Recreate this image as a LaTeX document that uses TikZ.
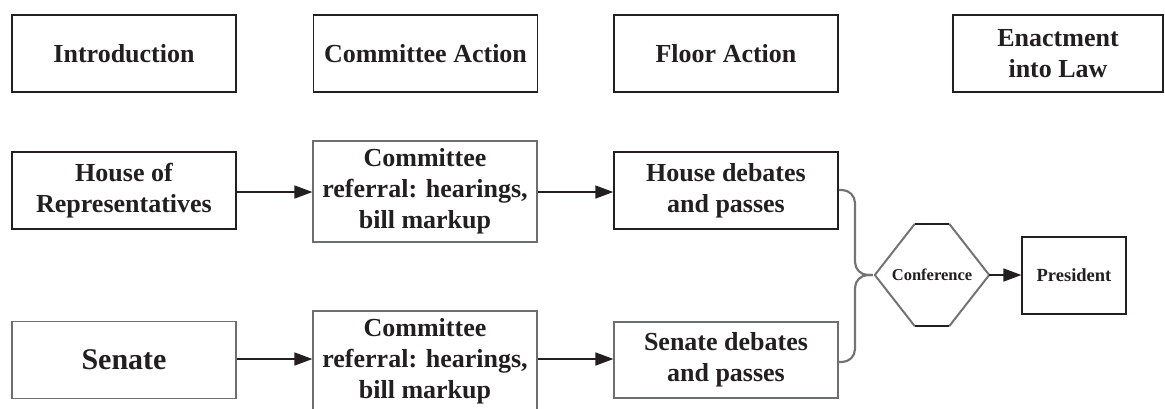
\documentclass[tikz,border=0pt]{standalone}
\usepackage{fontspec}
\setmainfont{Liberation Serif}
\usetikzlibrary{arrows.meta,calc}
\definecolor{ink}{HTML}{231F20}
\definecolor{midgray}{HTML}{6D6E71}
\definecolor{lightgray}{HTML}{747474}
\tikzset{
  stage/.style={draw=ink, line width=1.8pt, text=ink, font=\fontsize{26}{31}\selectfont\bfseries,
    align=center, inner sep=0pt, minimum width=224pt, minimum height=77pt},
  chamber/.style={draw=ink, line width=1.5pt, text=ink, font=\fontsize{26}{31}\selectfont\bfseries,
    align=center, inner sep=0pt, minimum width=224pt, minimum height=77pt},
  graybox/.style={draw=midgray, line width=1.2pt, text=ink, font=\fontsize{26}{31}\selectfont\bfseries,
    align=center, inner sep=0pt, minimum width=224pt, minimum height=77pt},
  cmte/.style={graybox, minimum height=101pt},
  flow/.style={draw=ink, line width=1.6pt, -{Triangle[length=18pt,width=13pt]}},
  bracket/.style={draw=lightgray, line width=2.2pt, rounded corners=13pt},
}
\begin{document}
\begin{tikzpicture}[x=1pt,y=-1pt]
\useasboundingbox (0,0) rectangle (1165,408);
\clip (0,0) rectangle (1165,408);
% stage headers
\node[stage] (intro) at (124,53.5) {Introduction};
\node[stage] (cmteact) at (425.5,53.5) {Committee Action};
\node[stage] (floor) at (726,53.5) {Floor Action};
\node[stage, minimum width=210pt] (enact) at (1058,53.5) {Enactment\\into Law};
% house row
\node[chamber] (house) at (124,190.5) {House of\\Representatives};
\node[cmte] (c1) at (425,191.5) {Committee\\referral: hearings,\\bill markup};
\node[chamber] (hd) at (726,190.5) {House debates\\and passes};
% senate row
\node[graybox, font=\fontsize{30}{36}\selectfont\bfseries] (senate) at (124,360) {Senate};
\node[cmte] (c2) at (425,361.5) {Committee\\referral: hearings,\\bill markup};
\node[graybox, minimum height=76pt] (sd) at (726,360) {Senate debates\\and passes};
% arrows
\draw[flow] (house.east |- 0,192) -- (c1.west |- 0,192);
\draw[flow] (c1.east |- 0,192) -- (hd.west |- 0,192);
\draw[flow] (senate.east |- 0,359) -- (c2.west |- 0,359);
\draw[flow] (c2.east |- 0,359) -- (sd.west |- 0,359);
% conference hexagon
\node[inner sep=0pt, minimum width=114pt, minimum height=102pt, text=ink,
  font=\fontsize{16.5}{20}\selectfont\bfseries] (conf) at (932,275) {Conference};
\coordinate (tip) at ($(conf.west)+(-2,0)$);
\draw[draw=lightgray, line width=2pt, line join=round]
  ($(conf.north west)+(40,0)$) -- (conf.west) -- ($(conf.south west)+(40,0)$);
\draw[draw=lightgray, line width=2pt, line join=round]
  ($(conf.north east)+(-40,0)$) -- (conf.east) -- ($(conf.south east)+(-40,0)$);
\draw[draw=ink, line width=2pt]
  ($(conf.north west)+(40,0)$) -- ($(conf.north east)+(-40,0)$);
\draw[draw=ink, line width=2pt]
  ($(conf.south west)+(40,0)$) -- ($(conf.south east)+(-40,0)$);
% brackets
\draw[bracket] (hd.east |- 0,190) -- (855,190) -- (855,275) -- (tip);
\draw[bracket] (sd.east |- 0,362) -- (855,362) -- (855,275) -- (tip);
% president
\node[draw=ink, line width=1.2pt, text=ink, font=\fontsize{18.5}{22}\selectfont\bfseries,
  inner sep=0pt, minimum width=104pt, minimum height=77pt] (pres) at (1074,275.5) {President};
\draw[flow] (conf.east) -- (pres.west |- conf.east);
\end{tikzpicture}
\end{document}
